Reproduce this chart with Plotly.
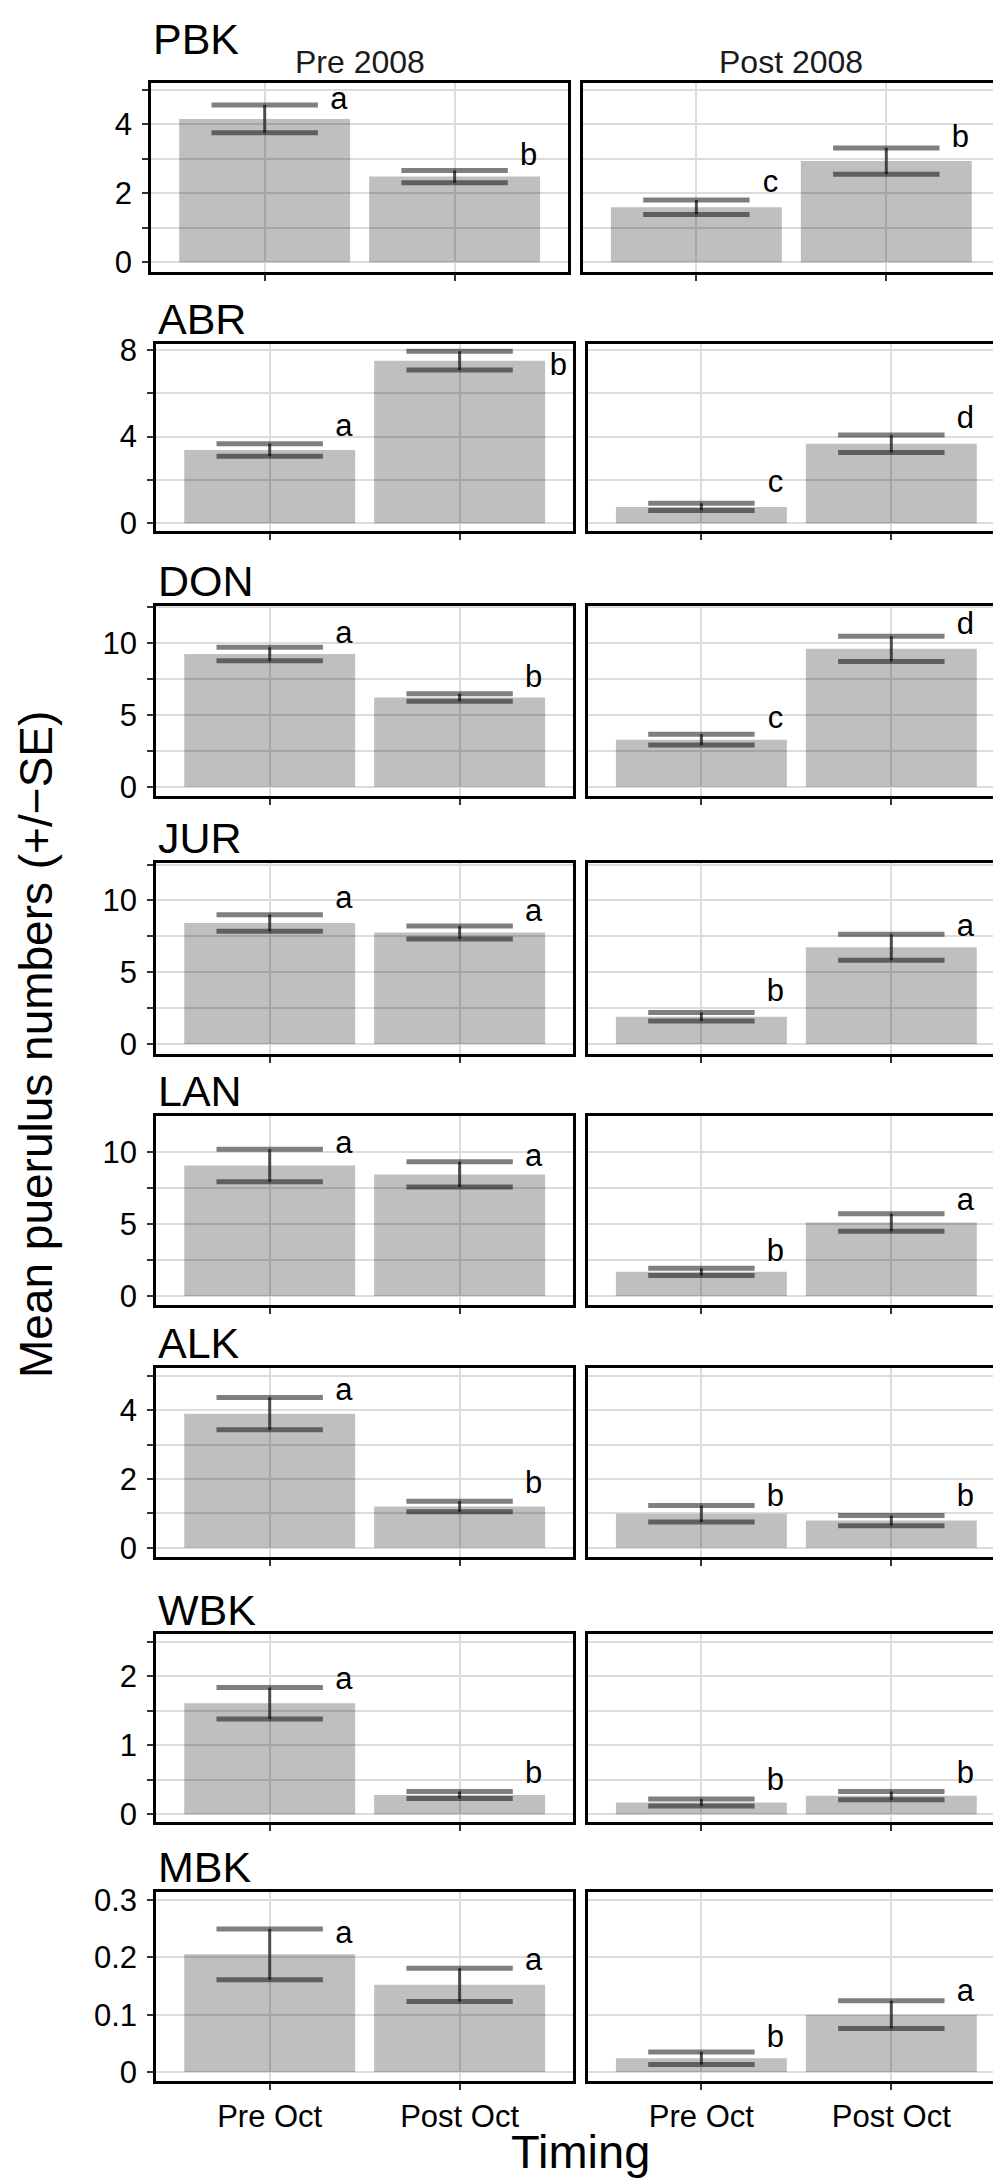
import plotly.graph_objects as go

# values
sites = ["PBK", "ABR", "DON", "JUR", "LAN", "ALK", "WBK", "MBK"]
periods = ["Pre 2008", "Post 2008"]
timing = ["Pre Oct", "Post Oct"]

mean_pre2008 = [[4.15, 2.48], [3.38, 7.51], [9.24, 6.21], [8.43, 7.77],
                [9.06, 8.44], [3.90, 1.20], [1.61, 0.28], [0.205, 0.152]]
se_pre2008 = [[0.40, 0.18], [0.29, 0.43], [0.47, 0.26], [0.58, 0.45],
              [1.13, 0.88], [0.47, 0.15], [0.23, 0.05], [0.044, 0.029]]
mean_post2008 = [[1.59, 2.93], [0.75, 3.67], [3.28, 9.59], [1.90, 6.74],
                 [1.67, 5.10], [0.99, 0.79], [0.17, 0.27], [0.024, 0.100]]
se_post2008 = [[0.21, 0.38], [0.17, 0.40], [0.38, 0.87], [0.30, 0.90],
               [0.25, 0.61], [0.24, 0.15], [0.05, 0.06], [0.011, 0.024]]

letters_pre2008 = [["a", "b"], ["a", "b"], ["a", "b"], ["a", "a"],
                   ["a", "a"], ["a", "b"], ["a", "b"], ["a", "a"]]
letters_post2008 = [["c", "b"], ["c", "d"], ["c", "d"], ["b", "a"],
                    ["b", "a"], ["b", "b"], ["b", "b"], ["b", "a"]]
letter_y_pre2008 = [[4.67, 3.03], [4.38, 7.2], [10.57, 7.48], [10.0, 9.08],
                    [10.5, 9.59], [4.52, 1.83], [1.93, 0.57], [0.238, 0.192]]
letter_y_post2008 = [[2.27, 3.56], [1.79, 4.76], [4.61, 11.15], [3.56, 8.05],
                     [2.93, 6.49], [1.45, 1.45], [0.47, 0.57], [0.057, 0.137]]

# axis settings per site row
y_ranges = [[-0.27, 5.2], [-0.35, 8.3], [-0.62, 12.57], [-0.67, 12.6],
            [-0.62, 12.5], [-0.28, 5.24], [-0.115, 2.61], [-0.015, 0.314]]
tick_step = [1, 2, 2.5, 2.5, 2.5, 1, 0.5, 0.1]
label_step = [2, 4, 5, 5, 5, 2, 1, 0.1]

W, H = 1001, 2182
row_top = [64.3, 327.7, 592.7, 852.3, 1107.7, 1361.7, 1631, 1891]
row_bot = [255, 516.7, 784.3, 1044.7, 1298.3, 1553.3, 1820.7, 2081.7]
FONT = "Liberation Sans, Arial, sans-serif"
GRID = "#dcdcdc"

means = [mean_pre2008, mean_post2008]
ses = [se_pre2008, se_post2008]
letters = [letters_pre2008, letters_post2008]
letter_y = [letter_y_pre2008, letter_y_post2008]

fig = go.Figure()
annotations = []


def ticks_for(i):
    step = tick_step[i]
    vals, k = [], 0
    while k * step <= y_ranges[i][1] - 0.02 * step:
        vals.append(round(k * step, 6))
        k += 1
    text = []
    for v in vals:
        r = v / label_step[i]
        text.append(f"{v:g}" if abs(r - round(r)) < 1e-6 else "")
    return vals, text


for i, site in enumerate(sites):
    shift = 0 if i == 0 else 5
    x_doms = [[143.3 + shift, 560 + shift], [575 + shift, 991.7 + shift]]
    tvals, ttext = ticks_for(i)
    for j in range(2):
        k = 2 * i + j + 1
        xr = "x" if k == 1 else f"x{k}"
        yr = "y" if k == 1 else f"y{k}"
        m = means[j][i]
        s = ses[j][i]

        fig.add_trace(go.Bar(
            x=[0, 1], y=m, width=0.9, xaxis=xr, yaxis=yr,
            marker=dict(color="rgba(0,0,0,0.25)", line=dict(width=0)),
            error_y=dict(type="data", array=s, visible=True, thickness=3,
                         width=0, color="rgba(40,40,40,0.8)"),
            showlegend=False, hoverinfo="skip",
        ))
        fig.add_trace(go.Scatter(
            x=[0, 0, 1, 1],
            y=[m[0] + s[0], m[0] - s[0], m[1] + s[1], m[1] - s[1]],
            mode="markers", xaxis=xr, yaxis=yr,
            marker=dict(symbol="line-ew", size=76,
                        line=dict(width=5, color="rgba(0,0,0,0.5)")),
            showlegend=False, hoverinfo="skip",
        ))
        dx = [0.39, 0.39]
        if site == "ABR" and j == 0:
            dx = [0.39, 0.52]
        fig.add_trace(go.Scatter(
            x=[0 + dx[0], 1 + dx[1]], y=letter_y[j][i], text=letters[j][i],
            mode="text", xaxis=xr, yaxis=yr, cliponaxis=False,
            textfont=dict(family=FONT, size=31, color="black"),
            textposition="middle center",
            showlegend=False, hoverinfo="skip",
        ))

        last = i == len(sites) - 1
        fig.layout["xaxis" if k == 1 else f"xaxis{k}"] = dict(
            domain=[x_doms[j][0] / W, x_doms[j][1] / W],
            anchor=yr, range=[-0.597, 1.597],
            tickvals=[0, 1], ticktext=timing if last else ["", ""],
            ticks="outside", ticklen=6, tickwidth=2, tickcolor="#333333",
            tickfont=dict(family=FONT, size=31, color="black"),
            showgrid=True, gridcolor=GRID, gridwidth=2, zeroline=False,
            showline=True, mirror=True, linecolor="black", linewidth=3,
        )
        fig.layout["yaxis" if k == 1 else f"yaxis{k}"] = dict(
            domain=[1 - row_bot[i] / H, 1 - row_top[i] / H],
            anchor=xr, range=y_ranges[i],
            tickvals=tvals, ticktext=ttext if j == 0 else [""] * len(tvals),
            ticks="outside" if j == 0 else "", ticklen=6, tickwidth=2,
            tickcolor="#333333", ticklabelstandoff=4,
            tickfont=dict(family=FONT, size=31, color="black"),
            showgrid=True, gridcolor=GRID, gridwidth=2, zeroline=False,
            showline=True, mirror=True, linecolor="black", linewidth=3,
        )

    # site title
    title_y = 20 if i == 0 else row_top[i] - 25
    annotations.append(dict(
        text=site, xref="paper", yref="paper", x=x_doms[0][0] / W,
        y=1 - title_y / H, xanchor="left", yanchor="middle", showarrow=False,
        font=dict(family=FONT, size=43, color="black"),
    ))

# period strips above first row
for j, p in enumerate(periods):
    x0, x1 = [[143.3, 560], [575, 991.7]][j]
    annotations.append(dict(
        text=p, xref="paper", yref="paper", x=(x0 + x1) / 2 / W,
        y=1 - 43.5 / H, xanchor="center", yanchor="middle", showarrow=False,
        font=dict(family=FONT, size=32, color="#1a1a1a"),
    ))

annotations.append(dict(
    text="Mean puerulus numbers (+/\u2212SE)", xref="paper", yref="paper",
    x=0, y=1 - 1036 / H, xanchor="left", yanchor="middle",
    textangle=-90, showarrow=False,
    font=dict(family=FONT, size=46, color="black"),
))
annotations.append(dict(
    text="Timing", xref="paper", yref="paper",
    x=572 / W, y=1 - 2153 / H, xanchor="center", yanchor="middle",
    showarrow=False, font=dict(family=FONT, size=47, color="black"),
))

fig.update_layout(
    width=W, height=H,
    margin=dict(l=0, r=0, t=0, b=0),
    paper_bgcolor="white", plot_bgcolor="white",
    barmode="overlay", annotations=annotations,
    font=dict(family=FONT),
)

fig.write_html("out.html")
